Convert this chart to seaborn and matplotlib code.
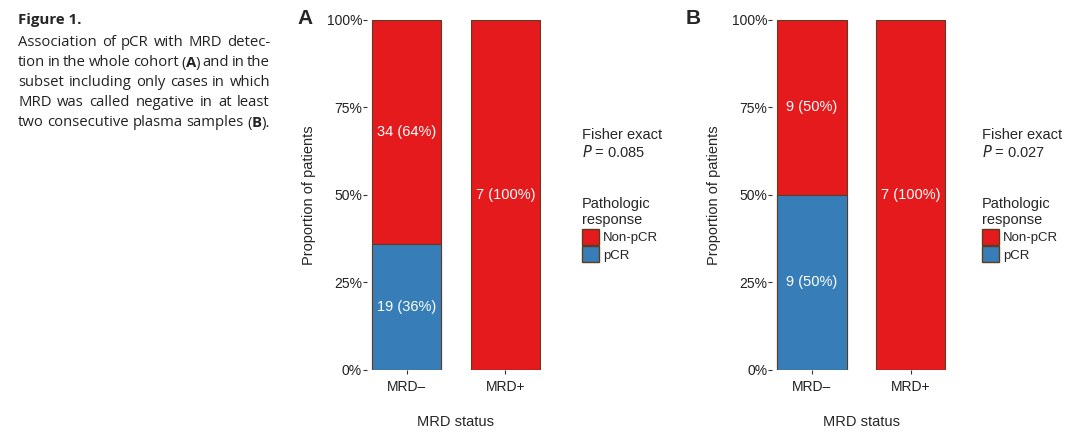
import pandas as pd
import seaborn as sns
import matplotlib.pyplot as plt
from matplotlib.patches import Patch

# data
mrd_status = ['MRD\u2013', 'MRD+']
a_pcr = [19, 0]
a_non_pcr = [34, 7]
b_pcr = [9, 0]
b_non_pcr = [9, 7]
fisher_p = ['0.085', '0.027']

RED = '#E41A1C'
BLUE = '#377EB8'
EDGE = '#5a3d22'

caption = [
    'Association of pCR with MRD detec-',
    'tion in the whole cohort (A) and in the',
    'subset including only cases in which',
    'MRD was called negative in at least',
    'two consecutive plasma samples (B).',
]


def stacked_panel(ax, pcr, non_pcr):
    df = pd.DataFrame({'status': mrd_status, 'pcr': pcr, 'non': non_pcr})
    df['total'] = df['pcr'] + df['non']
    df['pcr_frac'] = df['pcr'] / df['total']
    df['all'] = 1.0
    sns.barplot(data=df, x='status', y='all', color=RED, width=0.7,
                edgecolor=EDGE, linewidth=0.8, saturation=1, ax=ax)
    sns.barplot(data=df, x='status', y='pcr_frac', color=BLUE, width=0.7,
                edgecolor=EDGE, linewidth=0.8, saturation=1, ax=ax)
    for i, r in df.iterrows():
        if r['non'] > 0:
            mid = r['pcr_frac'] + (1 - r['pcr_frac']) / 2
            ax.text(i, mid, f"{r['non']} ({round(100 * r['non'] / r['total'])}%)",
                    ha='center', va='center', color='white', fontsize=10.5)
        if r['pcr'] > 0:
            ax.text(i, r['pcr_frac'] / 2, f"{r['pcr']} ({round(100 * r['pcr_frac'])}%)",
                    ha='center', va='center', color='white', fontsize=10.5)
    ax.set_xlim(-0.4, 1.4)
    ax.set_ylim(0, 1)
    ax.set_yticks([0, 0.25, 0.5, 0.75, 1.0])
    ax.set_yticklabels(['0%', '25%', '50%', '75%', '100%'])
    ax.tick_params(axis='both', left=True, bottom=True, length=3, width=0.8,
                   color='#333333', labelsize=10, labelcolor='#222222', pad=0.5)
    ax.tick_params(axis='x', pad=4)
    for s in ax.spines.values():
        s.set_visible(False)
    ax.set_xlabel('MRD status', fontsize=10.5, labelpad=15)
    ax.set_ylabel('Proportion of patients', fontsize=10.5, labelpad=8)


sns.set_style('white')
plt.rcParams['font.family'] = ['Liberation Sans', 'DejaVu Sans']

fig = plt.figure(figsize=(10.8, 4.41), dpi=100)
axA = fig.add_axes([0.3398, 0.161, 0.1648, 0.794])
axB = fig.add_axes([0.7152, 0.161, 0.1648, 0.794])
stacked_panel(axA, a_pcr, a_non_pcr)
stacked_panel(axB, b_pcr, b_non_pcr)

fig.text(297 / 1080, 1 - 19 / 441, 'A', fontsize=15, fontweight='bold', va='center')
fig.text(686 / 1080, 1 - 19 / 441, 'B', fontsize=15, fontweight='bold', va='center')

handles = [Patch(facecolor=RED, edgecolor=EDGE, label='Non-pCR'),
           Patch(facecolor=BLUE, edgecolor=EDGE, label='pCR')]
for x0, p in zip([582, 982], fisher_p):
    fig.text(x0 / 1080, 1 - 135 / 441, 'Fisher exact', fontsize=10.5, va='center')
    fig.text(x0 / 1080, 1 - 152 / 441, '$P$ = ' + p, fontsize=10.5, va='center')
    leg = fig.legend(handles=handles, title='Pathologic\nresponse',
                     loc='upper left', bbox_to_anchor=(x0 / 1080 - 0.005, 1 - 192 / 441),
                     frameon=False, fontsize=9.5, title_fontsize=10.5,
                     handlelength=1.3, handleheight=1.5, handletextpad=0.3,
                     labelspacing=0.1, borderaxespad=0)
    leg._legend_box.align = 'left'

# caption block on the left, justified between 18 and 270 px
cap_font = dict(fontsize=10.7, va='center', color='#222222',
                family=['Open Sans', 'DejaVu Sans'])
fig.text(18 / 1080, 1 - 20 / 441, 'Figure 1.', fontsize=10.8, fontweight='bold',
         va='center', family=['Open Sans', 'DejaVu Sans'])
renderer = fig.canvas.get_renderer()
x_left, x_right = 18, 270
for k, line in enumerate(caption):
    y = 1 - (43 + 20 * k) / 441
    words = line.split(' ')
    texts = []
    for w in words:
        core = w.strip('().')
        if core in ('A', 'B'):
            i0 = w.index(core)
            parts = [(w[:i0], 'normal'), (core, 'bold'), (w[i0 + 1:], 'normal')]
        else:
            parts = [(w, 'normal')]
        pieces = []
        for s, fw in parts:
            if s:
                t = fig.text(0, y, s, fontweight=fw, **cap_font)
                pieces.append((t, t.get_window_extent(renderer).width))
        texts.append(pieces)
    widths = [sum(wd for _, wd in pcs) for pcs in texts]
    gap = (x_right - x_left - sum(widths)) / (len(words) - 1)
    x = x_left
    for pcs, wtot in zip(texts, widths):
        xx = x
        for t, wd in pcs:
            t.set_x(xx / 1080)
            xx += wd
        x += wtot + gap

fig.savefig('out.png', dpi=100)
